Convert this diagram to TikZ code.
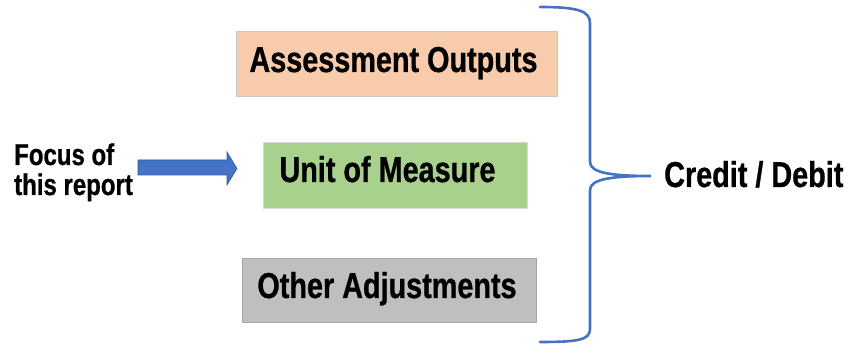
\documentclass[tikz,border=0pt]{standalone}
\usepackage{fontspec}
\newfontfamily\narfont[FakeStretch=0.8, BoldFeatures={FakeBold=0.8}]{Liberation Sans}
\definecolor{peach}{HTML}{F8CBAD}
\definecolor{leaf}{HTML}{A9D18E}
\definecolor{greybox}{HTML}{BFBFBF}
\definecolor{bluearrow}{HTML}{4472C4}
\begin{document}
\begin{tikzpicture}[x=1pt,y=1pt,
  box/.style={rectangle, inner sep=0pt, line width=0.8pt},
  lbl/.style={font=\narfont\bfseries\fontsize{36}{38}\selectfont, inner sep=0pt, anchor=base},
  side/.style={font=\narfont\bfseries\fontsize{30}{32}\selectfont, inner sep=0pt, anchor=base west},
  brace/.style={draw=bluearrow, line width=2.6pt, line cap=round}]
\useasboundingbox (0,0) rectangle (849,345);
% boxes
\node[box, fill=peach, draw=black!22, minimum width=321pt, minimum height=65pt] (b1) at (396.5,281.5) {};
\node[box, fill=leaf, draw=black!15, minimum width=264pt, minimum height=66pt] (b2) at (395,170) {};
\node[box, fill=greybox, draw=black!35, minimum width=294pt, minimum height=64pt] (b3) at (389,55) {};
\node[lbl] (t1) at (393.5,273) {Assessment Outputs};
\node[lbl] (t2) at (387.5,163) {Unit of Measure};
\node[lbl] (t3) at (387,47) {Other Adjustments};
% left text
\node[side] (f1) at (14,180) {Focus of};
\node[side] (f2) at (14,150) {this report};
% arrow
\coordinate (a0) at (138,177.5);
\coordinate (a1) at (237,176.5);
\fill[bluearrow, draw=bluearrow!80!black, line width=0.6pt]
  (a0) ++(0,7.5) -- (227,185) -- (227,193) -- (a1) -- (227,160) -- (227,170) -- (138,170) -- cycle;
% brace
\coordinate (tip) at (651,169);
\draw[brace] (540,338) .. controls (578,338) and (590,334) .. (590,322)
  -- (590,183) .. controls (590,172) and (612,169) .. (tip)
  .. controls (612,169) and (590,166) .. (590,155)
  -- (590,16) .. controls (590,5) and (578,3) .. (540,3);
\node[font=\narfont\bfseries\fontsize{36}{38}\selectfont, inner sep=0pt, anchor=base west] (cd) at (664,158) {Credit / Debit};
\end{tikzpicture}
\end{document}
